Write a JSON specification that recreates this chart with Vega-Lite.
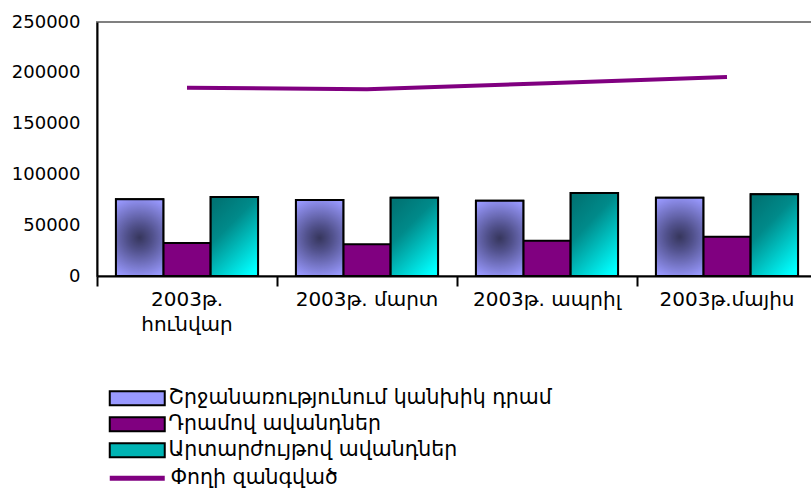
{
  "$schema": "https://vega.github.io/schema/vega-lite/v6.json",
  "width": 720,
  "height": 254,
  "autosize": "none",
  "padding": {"left": 97, "top": 22, "right": 0, "bottom": 216},
  "background": "white",
  "config": {
    "font": "DejaVu Sans",
    "view": {"stroke": "#808080", "strokeWidth": 2}
  },
  "datasets": {
    "bars": [
      {"month": "2003թ. հունվար", "series": "Շրջանառությունում կանխիկ դրամ", "value": 75500},
      {"month": "2003թ. հունվար", "series": "Դրամով ավանդներ", "value": 32500},
      {"month": "2003թ. հունվար", "series": "Արտարժույթով ավանդներ", "value": 77750},
      {"month": "2003թ. մարտ", "series": "Շրջանառությունում կանխիկ դրամ", "value": 74800},
      {"month": "2003թ. մարտ", "series": "Դրամով ավանդներ", "value": 31200},
      {"month": "2003թ. մարտ", "series": "Արտարժույթով ավանդներ", "value": 77100},
      {"month": "2003թ. ապրիլ", "series": "Շրջանառությունում կանխիկ դրամ", "value": 74100},
      {"month": "2003թ. ապրիլ", "series": "Դրամով ավանդներ", "value": 34750},
      {"month": "2003թ. ապրիլ", "series": "Արտարժույթով ավանդներ", "value": 81700},
      {"month": "2003թ.մայիս", "series": "Շրջանառությունում կանխիկ դրամ", "value": 77100},
      {"month": "2003թ.մայիս", "series": "Դրամով ավանդներ", "value": 38700},
      {"month": "2003թ.մայիս", "series": "Արտարժույթով ավանդներ", "value": 80400}
    ],
    "money": [
      {"month": "2003թ. հունվար", "series": "Փողի զանգված", "value": 185300},
      {"month": "2003թ. մարտ", "series": "Փողի զանգված", "value": 183700},
      {"month": "2003թ. ապրիլ", "series": "Փողի զանգված", "value": 189700},
      {"month": "2003թ.մայիս", "series": "Փողի զանգված", "value": 195900}
    ]
  },
  "encoding": {
    "x": {
      "field": "month",
      "type": "nominal",
      "sort": ["2003թ. հունվար", "2003թ. մարտ", "2003թ. ապրիլ", "2003թ.մայիս"],
      "scale": {"paddingInner": 0, "paddingOuter": 0},
      "axis": {
        "title": null,
        "labelAngle": 0,
        "domainColor": "black",
        "domainWidth": 2,
        "tickColor": "black",
        "tickWidth": 2,
        "tickSize": 10,
        "bandPosition": 0,
        "labelOffset": 0,
        "labelFontSize": 20,
        "labelColor": "black",
        "labelPadding": 3,
        "labelLineHeight": 25,
        "labelBaseline": "top",
        "labelExpr": "length(datum.label) > 12 ? split(datum.label, ' ') : datum.label"
      }
    },
    "y": {
      "field": "value",
      "type": "quantitative",
      "scale": {"domain": [0, 250000], "nice": false},
      "axis": {
        "title": null,
        "values": [0, 50000, 100000, 150000, 200000, 250000],
        "format": "d",
        "grid": false,
        "ticks": false,
        "domainColor": "black",
        "domainWidth": 2,
        "labelFontSize": 18,
        "labelColor": "black",
        "labelPadding": 17
      }
    }
  },
  "layer": [
    {
      "data": {"name": "bars"},
      "mark": {"type": "bar", "stroke": "black", "strokeWidth": 2},
      "encoding": {
        "xOffset": {
          "field": "series",
          "type": "nominal",
          "scale": {"domain": ["Շրջանառությունում կանխիկ դրամ", "Դրամով ավանդներ", "Արտարժույթով ավանդներ"], "paddingInner": 0, "paddingOuter": 0.4}
        },
        "fill": {
          "field": "series",
          "type": "nominal",
          "scale": {
            "domain": ["Շրջանառությունում կանխիկ դրամ", "Դրամով ավանդներ", "Արտարժույթով ավանդներ"],
            "range": ["#9999ff", "#800080", "#00b4b4"]
          },
          "legend": {
            "orient": "none",
            "legendX": 30,
            "legendY": 366,
            "title": null,
            "padding": 0,
            "symbolType": "M-5,-1.27H5V1.27H-5Z",
            "symbolSize": 121,
            "symbolStrokeColor": "black",
            "symbolStrokeWidth": 2,
            "labelFontSize": 20.5,
            "labelColor": "black",
            "labelOffset": 21,
            "labelLimit": 600,
            "rowPadding": 3
          }
        }
      }
    },
    {
      "data": {"name": "bars"},
      "transform": [{"filter": "datum.series == 'Շրջանառությունում կանխիկ դրամ'"}],
      "mark": {
        "type": "bar",
        "stroke": "black",
        "strokeWidth": 2,
        "fill": {"gradient": "radial", "x1": 0.5, "y1": 0.5, "r1": 0, "x2": 0.5, "y2": 0.5, "r2": 0.55,
                 "stops": [{"offset": 0, "color": "#36365c"}, {"offset": 0.3, "color": "#50508a"}, {"offset": 1, "color": "#9999ff"}]}
      },
      "encoding": {
        "xOffset": {
          "field": "series",
          "type": "nominal",
          "scale": {"domain": ["Շրջանառությունում կանխիկ դրամ", "Դրամով ավանդներ", "Արտարժույթով ավանդներ"], "paddingInner": 0, "paddingOuter": 0.4}
        }
      }
    },
    {
      "data": {"name": "bars"},
      "transform": [{"filter": "datum.series == 'Արտարժույթով ավանդներ'"}],
      "mark": {
        "type": "bar",
        "stroke": "black",
        "strokeWidth": 2,
        "fill": {"gradient": "linear", "x1": 0.2, "y1": 0, "x2": 0.8, "y2": 1,
                 "stops": [{"offset": 0, "color": "#007474"}, {"offset": 0.35, "color": "#008a8a"}, {"offset": 1, "color": "#00ffff"}]}
      },
      "encoding": {
        "xOffset": {
          "field": "series",
          "type": "nominal",
          "scale": {"domain": ["Շրջանառությունում կանխիկ դրամ", "Դրամով ավանդներ", "Արտարժույթով ավանդներ"], "paddingInner": 0, "paddingOuter": 0.4}
        }
      }
    },
    {
      "data": {"name": "money"},
      "mark": {"type": "line", "strokeWidth": 4},
      "encoding": {
        "stroke": {
          "field": "series",
          "type": "nominal",
          "scale": {"range": ["#800080"]},
          "legend": {
            "orient": "none",
            "legendX": 30,
            "legendY": 446,
            "title": null,
            "padding": 0,
            "symbolType": "M-5,0H5",
            "symbolSize": 121,
            "symbolStrokeWidth": 5,
            "labelFontSize": 20.5,
            "labelColor": "black",
            "labelOffset": 23,
            "labelLimit": 600
          }
        }
      }
    }
  ]
}
